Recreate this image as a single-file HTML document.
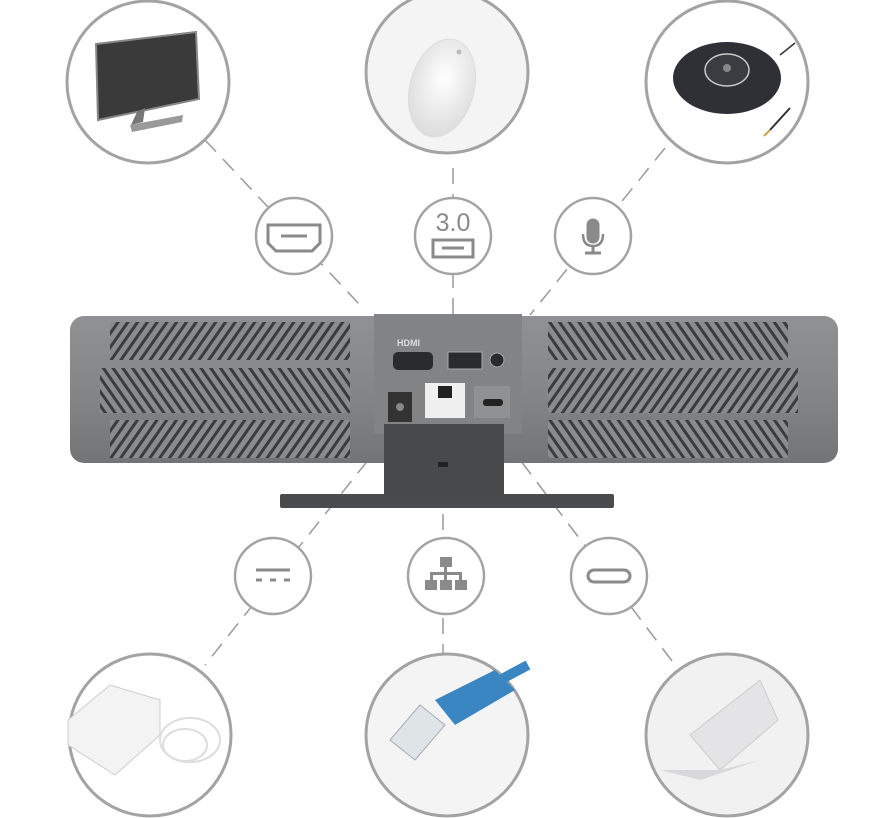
<!DOCTYPE html>
<html><head><meta charset="utf-8"><style>
html,body{margin:0;padding:0;background:#fff;}
svg{display:block;}
</style></head><body>
<svg width="895" height="818" viewBox="0 0 895 818" xmlns="http://www.w3.org/2000/svg">
<defs>
<linearGradient id="bar" x1="0" y1="0" x2="0" y2="1">
<stop offset="0" stop-color="#909193"/><stop offset="0.5" stop-color="#858688"/><stop offset="1" stop-color="#737476"/>
</linearGradient>
<pattern id="vent" width="8" height="8" patternUnits="userSpaceOnUse" patternTransform="rotate(35)">
<rect width="8" height="8" fill="#8a8b8d"/><rect width="3" height="8" fill="#3a3b3d"/>
</pattern>
<pattern id="vent2" width="8" height="8" patternUnits="userSpaceOnUse" patternTransform="rotate(-35)">
<rect width="8" height="8" fill="#8a8b8d"/><rect width="3" height="8" fill="#3a3b3d"/>
</pattern>
<radialGradient id="mouse" cx="0.5" cy="0.4" r="0.6"><stop offset="0" stop-color="#fff"/><stop offset="1" stop-color="#dcdcdc"/></radialGradient>
</defs>
<g stroke="#9a9a9a" stroke-width="1.5" stroke-dasharray="16 10" fill="none">
<line x1="205" y1="140" x2="360" y2="305"/>
<line x1="453" y1="168" x2="453" y2="330"/>
<line x1="665" y1="148" x2="530" y2="315"/>
<line x1="400" y1="420" x2="205" y2="665"/>
<line x1="443" y1="410" x2="443" y2="655"/>
<line x1="490" y1="420" x2="675" y2="665"/>
</g>
<g stroke="#a3a3a3" stroke-width="3" fill="#fff">
<circle cx="148" cy="82" r="81"/>
<circle cx="447" cy="72" r="81" fill="#f4f4f4"/>
<circle cx="727" cy="82" r="81"/>
<circle cx="150" cy="735" r="81"/>
<circle cx="447" cy="735" r="81" fill="#f4f4f4"/>
<circle cx="727" cy="735" r="81" fill="#f1f1f1"/>
</g>
<polygon points="96,44 196,32 199,99 98,120" fill="#3a3a3a" stroke="#888" stroke-width="2"/>
<polygon points="137,112 145,108 143,122 131,125" fill="#777"/>
<polygon points="130,125 183,115 182,122 132,132" fill="#999"/>
<ellipse cx="442" cy="88" rx="32" ry="50" transform="rotate(15 442 88)" fill="url(#mouse)" stroke="#ddd"/>
<circle cx="459" cy="52" r="2.5" fill="#bbb"/>
<ellipse cx="727" cy="78" rx="54" ry="36" fill="#2e3036"/>
<ellipse cx="727" cy="70" rx="22" ry="16" fill="#3a3c42" stroke="#ccc" stroke-width="1.5"/>
<circle cx="727" cy="68" r="4" fill="#888"/>
<line x1="780" y1="55" x2="795" y2="43" stroke="#333" stroke-width="1.5"/>
<line x1="790" y1="108" x2="770" y2="130" stroke="#333" stroke-width="2"/>
<line x1="770" y1="130" x2="764" y2="136" stroke="#c9a54a" stroke-width="2"/>
<polygon points="68,720 110,685 160,700 160,735 115,775 68,745" fill="#f3f3f3" stroke="#ccc"/>
<ellipse cx="190" cy="740" rx="30" ry="22" fill="none" stroke="#ddd" stroke-width="2"/>
<ellipse cx="185" cy="745" rx="22" ry="16" fill="none" stroke="#ddd" stroke-width="2"/>
<polygon points="390,740 420,705 445,725 415,760" fill="#dfe4e6" stroke="#aab"/>
<polygon points="435,700 495,670 515,690 455,725" fill="#3a86c3"/>
<line x1="500" y1="680" x2="528" y2="665" stroke="#3a86c3" stroke-width="10"/>
<polygon points="690,735 760,680 778,720 720,770" fill="#e4e4e6" stroke="#ccc"/>
<polygon points="660,770 720,770 760,760 700,780" fill="#d8d8da"/>
<g stroke="#a3a3a3" stroke-width="2.5" fill="#fff">
<circle cx="294" cy="236" r="38"/>
<circle cx="453" cy="236" r="38"/>
<circle cx="593" cy="236" r="38"/>
<circle cx="273" cy="576" r="38"/>
<circle cx="446" cy="576" r="38"/>
<circle cx="609" cy="576" r="38"/>
</g>
<g fill="none" stroke="#8a8a8a" stroke-width="3">
<polygon points="268,225 320,225 320,243 312,251 276,251 268,243"/>
<line x1="281" y1="236" x2="307" y2="236"/>
<rect x="433" y="240" width="40" height="17"/>
<line x1="442" y1="248" x2="464" y2="248"/>
<rect x="588" y="220" width="10" height="22" rx="5" fill="#8a8a8a"/>
<path d="M583 234 q0 12 10 12 q10 0 10-12" stroke-width="2.5"/>
<line x1="593" y1="246" x2="593" y2="253"/>
<line x1="585" y1="253" x2="601" y2="253"/>
<line x1="256" y1="570" x2="290" y2="570"/>
<line x1="256" y1="580" x2="262" y2="580"/><line x1="270" y1="580" x2="276" y2="580"/><line x1="284" y1="580" x2="290" y2="580"/>
<rect x="588" y="570" width="42" height="12" rx="6"/>
</g>
<text x="453" y="231" text-anchor="middle" font-family="Liberation Sans, sans-serif" font-size="25" fill="#8a8a8a">3.0</text>
<g fill="#8a8a8a">
<rect x="440" y="557" width="12" height="10"/>
<rect x="444" y="566" width="3" height="7"/>
<rect x="430" y="572" width="32" height="3"/>
<rect x="430" y="572" width="3" height="8"/><rect x="459" y="572" width="3" height="8"/><rect x="444" y="572" width="3" height="8"/>
<rect x="425" y="580" width="12" height="10"/><rect x="440" y="580" width="12" height="10"/><rect x="455" y="580" width="12" height="10"/>
</g>
<rect x="280" y="494" width="334" height="14" rx="2" fill="#4a4b4d"/>
<rect x="70" y="316" width="768" height="147" rx="14" fill="url(#bar)"/>
<rect x="110" y="322" width="240" height="38" fill="url(#vent)"/>
<rect x="100" y="368" width="250" height="45" fill="url(#vent2)"/>
<rect x="110" y="420" width="240" height="38" fill="url(#vent)"/>
<rect x="548" y="322" width="240" height="38" fill="url(#vent2)"/>
<rect x="548" y="368" width="250" height="45" fill="url(#vent)"/>
<rect x="548" y="420" width="240" height="38" fill="url(#vent2)"/>
<rect x="374" y="314" width="148" height="120" fill="#828385"/>
<rect x="384" y="424" width="120" height="72" fill="#48494b"/>
<rect x="438" y="462" width="10" height="5" fill="#222"/>
<rect x="393" y="352" width="40" height="18" rx="5" fill="#2a2b2d"/>
<text x="397" y="346" font-family="Liberation Sans, sans-serif" font-size="9" font-weight="bold" fill="#ddd">HDMI</text>
<rect x="448" y="352" width="34" height="17" fill="#2a2b2d" stroke="#aaa"/>
<circle cx="497" cy="360" r="7" fill="#2a2b2d" stroke="#aaa"/>
<rect x="388" y="392" width="24" height="30" fill="#333"/>
<circle cx="400" cy="407" r="4" fill="#888"/>
<rect x="425" y="383" width="40" height="35" fill="#f0f0f0"/>
<rect x="438" y="386" width="14" height="12" fill="#222"/>
<rect x="474" y="386" width="36" height="32" fill="#909193"/>
<rect x="483" y="399" width="20" height="7" rx="3" fill="#222"/>
</svg>
</body></html>
